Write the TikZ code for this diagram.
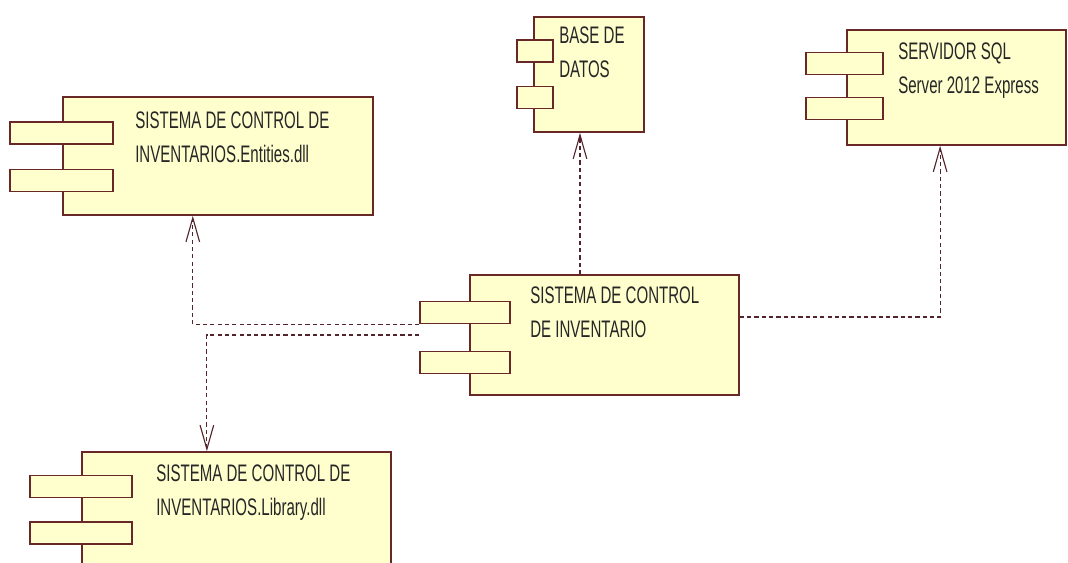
\documentclass[tikz,border=0pt]{standalone}
\usepackage{fontspec}
\newfontfamily\umlfont[FakeStretch=0.63]{Liberation Sans}
\usetikzlibrary{arrows.meta}
\definecolor{compfill}{RGB}{255,255,206}
\definecolor{compline}{RGB}{104,40,40}
\definecolor{depline}{RGB}{84,36,44}

\begin{document}
\begin{tikzpicture}[x=0.025cm,y=-0.025cm,
  body/.style={draw=compline,line width=1.1pt,fill=compfill,inner sep=0pt},
  tab/.style={draw=compline,line width=1.1pt,fill=compfill,inner sep=0pt,minimum height=0.56cm},
  lbl/.style={anchor=north west,inner sep=0pt,align=left,text=black!85,font=\umlfont\fontsize{17}{24}\selectfont},
  dep/.style={draw=depline,line width=0.8pt,dash pattern=on 3pt off 2.2pt,-{Straight Barb[length=0.6cm,width=0.34cm]}}]
\useasboundingbox (0,0) rectangle (1068,562);

% components
\node[body,minimum width=7.75cm,minimum height=2.95cm] (ent) at (218,156) {};
\node[tab,minimum width=2.575cm] (ent_t1) at (61.5,133) {};
\node[tab,minimum width=2.575cm] (ent_t2) at (61.5,180.5) {};
\node[lbl] (ent_txt) at (135,112) {SISTEMA DE CONTROL DE\\INVENTARIOS.Entities.dll};

\node[body,minimum width=2.75cm,minimum height=2.875cm] (bd) at (589,74.5) {};
\node[tab,minimum width=0.9cm] (bd_t1) at (535,51) {};
\node[tab,minimum width=0.9cm] (bd_t2) at (535,97.5) {};
\node[lbl] (bd_txt) at (559,27) {BASE DE\\DATOS};

\node[body,minimum width=5.475cm,minimum height=2.875cm] (srv) at (956.5,87.5) {};
\node[tab,minimum width=1.925cm] (srv_t1) at (844.5,63.5) {};
\node[tab,minimum width=1.925cm] (srv_t2) at (844.5,108.5) {};
\node[lbl] (srv_txt) at (898,43) {SERVIDOR SQL\\Server 2012 Express};

\node[body,minimum width=6.725cm,minimum height=3.0cm] (cen) at (604.5,335) {};
\node[tab,minimum width=2.25cm] (cen_t1) at (465,312.5) {};
\node[tab,minimum width=2.25cm] (cen_t2) at (465,362.5) {};
\node[lbl] (cen_txt) at (530,287) {SISTEMA DE CONTROL\\DE INVENTARIO};

\node[body,minimum width=7.725cm,minimum height=3.2cm] (lib) at (236.5,516) {};
\node[tab,minimum width=2.55cm] (lib_t1) at (81,486.5) {};
\node[tab,minimum width=2.55cm] (lib_t2) at (81,533) {};
\node[lbl] (lib_txt) at (156,465) {SISTEMA DE CONTROL DE\\INVENTARIOS.Library.dll};

% dependencies
\draw[dep] (cen.north -| 580,0) -- (bd.south -| 580,0);
\draw[dep] ([yshift=0.45cm]cen.east) -| ([xshift=-0.41cm]srv.south);
\draw[dep] (cen_t1.south west) -| ([xshift=-0.63cm]ent.south);
\draw[dep] (cen.west -| cen_t1.west) -| ([xshift=-0.74cm]lib.north);
\end{tikzpicture}
\end{document}
